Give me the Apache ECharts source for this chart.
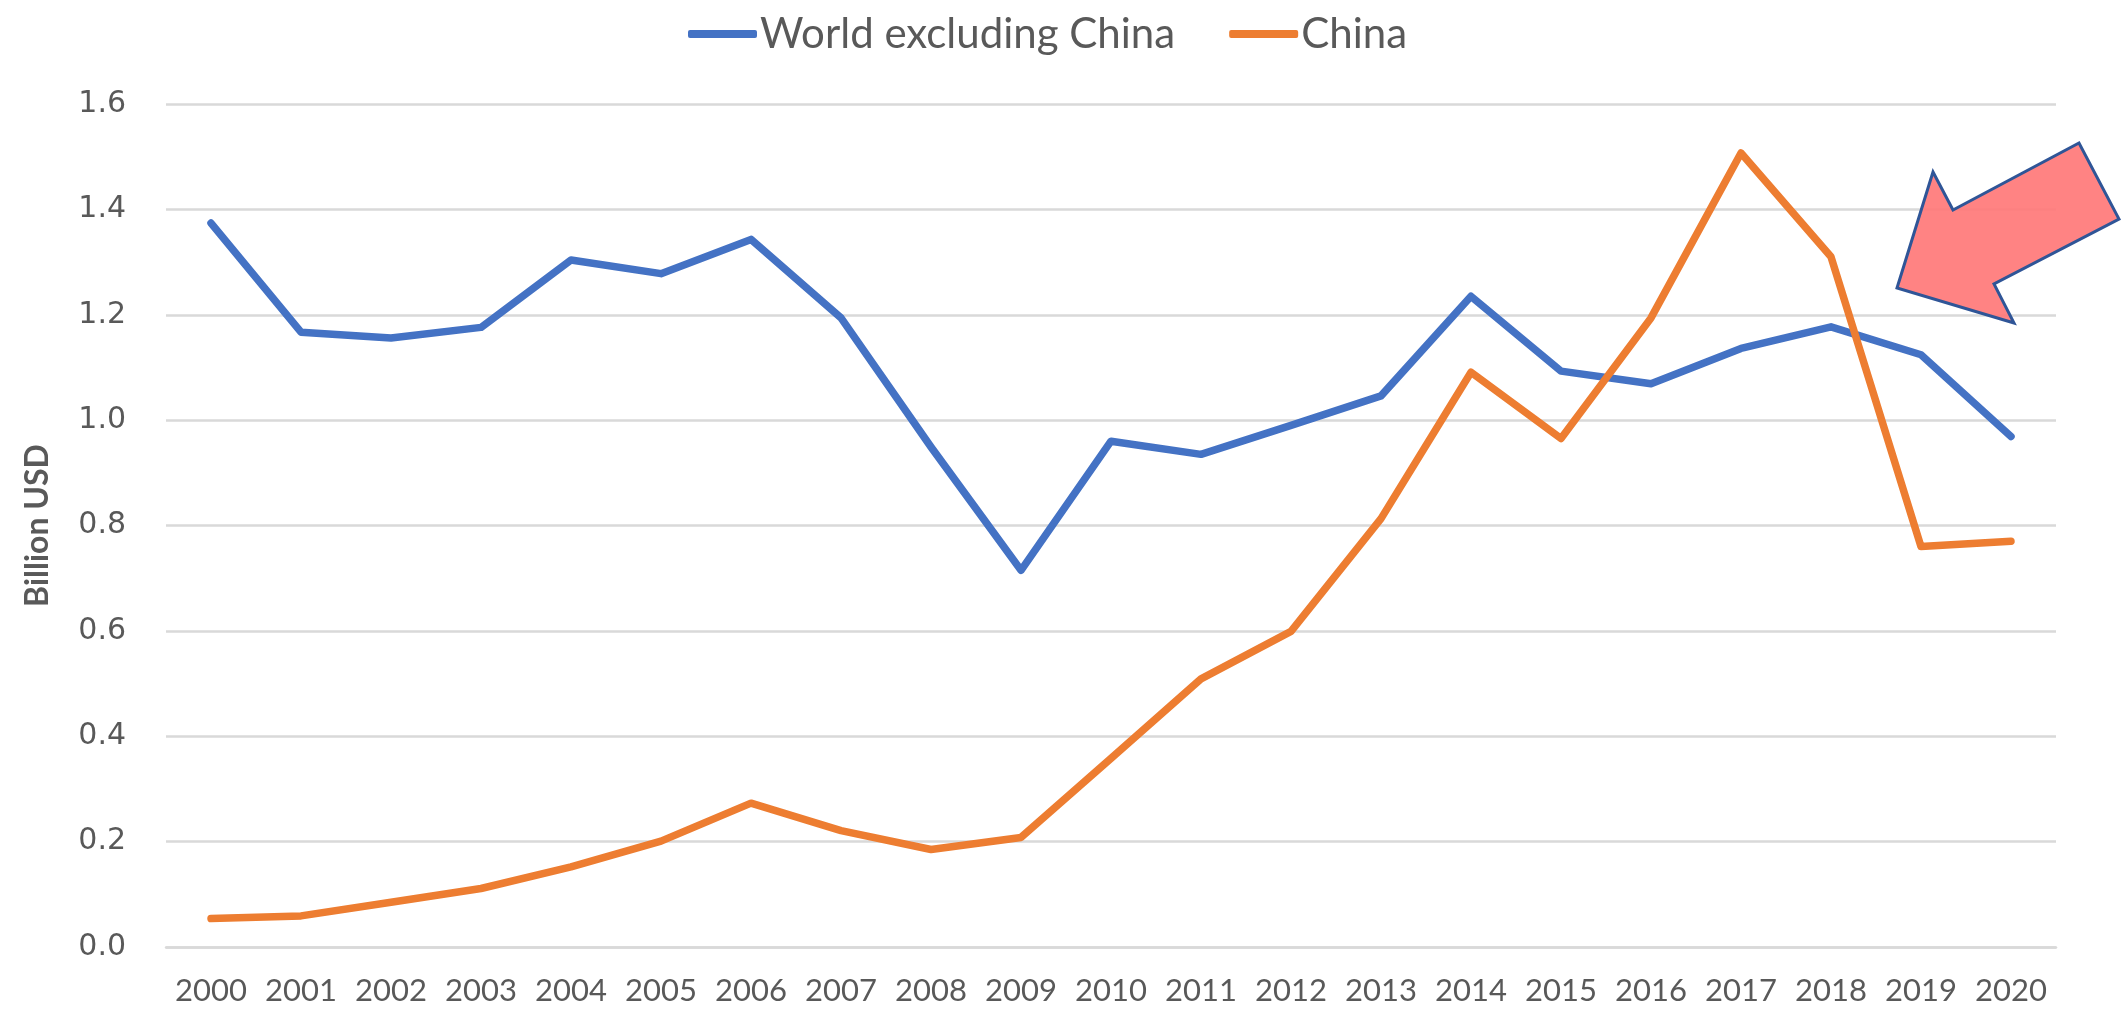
<!DOCTYPE html>
<html>
<head>
<meta charset="utf-8">
<script src="https://cdn.jsdelivr.net/npm/echarts@6/dist/echarts.min.js"></script>
<style>html,body{margin:0;padding:0;background:#fff}#c{width:2125px;height:1010px}</style>
</head>
<body>
<div id="c"></div>
<script>
const years = ['2000','2001','2002','2003','2004','2005','2006','2007','2008','2009','2010','2011','2012','2013','2014','2015','2016','2017','2018','2019','2020'];
const worldExChina = [1.374,1.167,1.156,1.176,1.304,1.278,1.343,1.194,0.949,0.715,0.960,0.935,0.990,1.046,1.235,1.093,1.069,1.136,1.177,1.124,0.969];
const china = [0.054,0.059,0.085,0.111,0.152,0.201,0.273,0.221,0.185,0.208,0.358,0.509,0.599,0.813,1.091,0.965,1.194,1.507,1.310,0.760,0.770];
const seriesNames = ['World excluding China','China'];
const yTitle = 'Billion USD';

const chart = echarts.init(document.getElementById('c'), null, {renderer:'canvas'});
const labelFont = 'Lato, "Open Sans", sans-serif';
chart.setOption({
  animation:false,
  legend:{
    top:8, left:683,
    itemWidth:69, itemHeight:8, itemGap:54,
    icon:'roundRect',
    textStyle:{fontFamily:labelFont, fontSize:42, color:'#595959', padding:[0,0,0,-2]},
    data:seriesNames
  },
  grid:{left:166, right:69, top:104, bottom:63},
  xAxis:{
    type:'category', data:years, boundaryGap:true,
    axisLine:{lineStyle:{color:'#d9d9d9', width:2.5}},
    axisTick:{show:false},
    axisLabel:{fontFamily:labelFont, fontSize:31, color:'#595959', margin:28, interval:0}
  },
  yAxis:{
    type:'value', min:0, max:1.6, interval:0.2,
    name:yTitle, nameLocation:'middle', nameGap:112, nameRotate:90,
    nameTextStyle:{fontFamily:labelFont, fontSize:32, fontWeight:'bold', color:'#595959'},
    axisLine:{show:false}, axisTick:{show:false},
    axisLabel:{fontFamily:'"DejaVu Sans", sans-serif', fontSize:30, color:'#595959', margin:40,
      formatter:v=>v.toFixed(1)},
    splitLine:{lineStyle:{color:'#d9d9d9', width:2.5}}
  },
  series:[
    {name:seriesNames[0], type:'line', data:worldExChina, showSymbol:false, symbol:'none',
     lineStyle:{color:'#4472C4', width:7.5, cap:'round', join:'round'}, itemStyle:{color:'#4472C4'}},
    {name:seriesNames[1], type:'line', data:china, showSymbol:false, symbol:'none',
     lineStyle:{color:'#ED7D31', width:7.5, cap:'round', join:'round'}, itemStyle:{color:'#ED7D31'}}
  ],
  graphic:[{
    type:'polygon', z:100,
    shape:{points:[[1897,288],[1933,172],[1953,210],[2079,143],[2119,219],[1994,284],[2014,323]]},
    style:{fill:'rgba(255,120,120,0.92)', stroke:'#2F5597', lineWidth:3}
  }]
});
</script>
</body>
</html>
